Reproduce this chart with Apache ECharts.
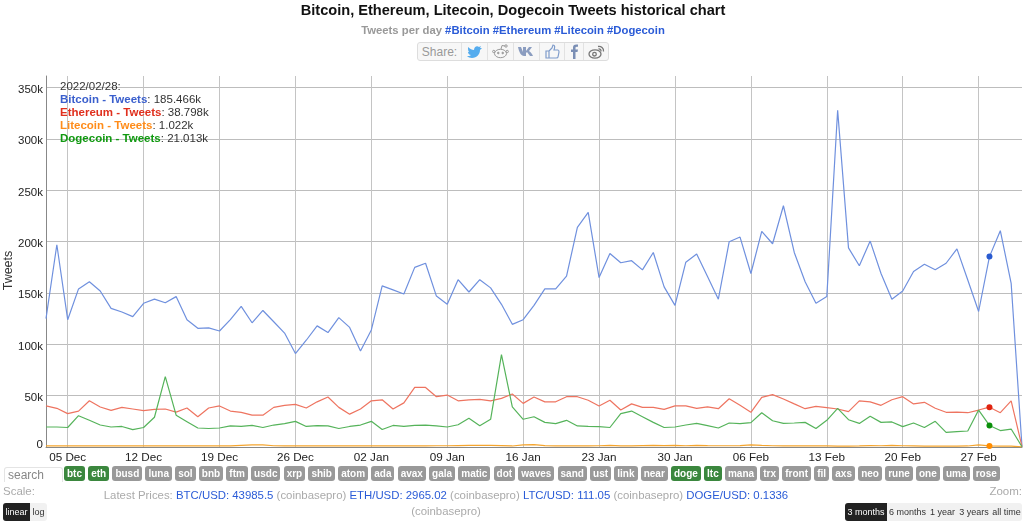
<!DOCTYPE html>
<html>
<head>
<meta charset="utf-8">
<title>Bitcoin, Ethereum, Litecoin, Dogecoin Tweets historical chart</title>
<script src="https://cdn.jsdelivr.net/npm/echarts@6/dist/echarts.min.js"></script>
<style>
html,body{margin:0;padding:0;background:#fff;font-family:"Liberation Sans",Arial,sans-serif;}
#page{position:relative;width:1024px;height:527px;overflow:hidden;}
#chart{position:absolute;left:0;top:0;width:1024px;height:527px;}
.abs{position:absolute;white-space:nowrap;}
#head{left:0;width:1026px;top:1px;text-align:center;font-weight:bold;font-size:14.6px;line-height:18px;color:#111;}
#sub{left:0;width:1026px;top:23px;text-align:center;font-weight:bold;font-size:11.3px;line-height:15px;color:#999;}
#sub span,.blue{color:#2a5bd7;}
#share{left:417px;top:42px;height:17px;width:190px;border:1px solid #ddd;border-radius:3px;background:#f7f7f7;display:flex;}
#share div{border-left:1px solid #e2e2e2;height:17px;display:flex;align-items:center;justify-content:center;}
#share div:first-child{border-left:0;color:#999;font-size:12px;}
#tags{left:64px;top:466px;display:flex;gap:3.2px;}
#tags span{background:#999;color:#fff;font-weight:bold;font-size:10px;line-height:15px;height:15px;padding:0 3px;border-radius:3px;}
#tags span.on{background:#3b873e;}
#search{left:4px;top:467px;width:54px;height:14px;border:1px solid #e4e4e4;border-bottom:0;border-radius:3px 3px 0 0;font-size:12px;line-height:15px;color:#888;padding-left:3px;}
.lbl{color:#aaa;font-size:11.5px;}
#prices{left:100px;width:692px;top:487px;text-align:center;font-size:11.4px;line-height:16px;color:#aaa;white-space:normal;}
.btns{display:flex;top:503px;height:18px;border-radius:3px;overflow:hidden;background:#f1f1f1;font-size:9px;line-height:18px;color:#333;text-align:center;}
.btns .act{background:#222;color:#fff;}
</style>
</head>
<body>
<div id="page">
  <div id="chart"></div>
  <div class="abs" id="head">Bitcoin, Ethereum, Litecoin, Dogecoin Tweets historical chart</div>
  <div class="abs" id="sub">Tweets per day <span>#Bitcoin #Ethereum #Litecoin #Dogecoin</span></div>
  <div class="abs" id="share">
    <div style="width:43px">Share:</div>
    <div style="width:25px"><svg width="15" height="13" viewBox="0 0 15 13"><path d="M1 2c2 2 4 3 6 3 0-3 3-5 5-3l2-1-1 2 2 0-2 2c0 4-3 8-8 8-2 0-4-1-5-2 2 0 3 0 4-1-2 0-3-2-3-3h1C1 6 1 4 1 2z" fill="#55acee"/></svg></div>
    <div style="width:25px"><svg width="17" height="15" viewBox="0 0 17 15" fill="none" stroke="#999"><ellipse cx="8.5" cy="9.5" rx="6" ry="4.2"/><circle cx="14" cy="2" r="1.2"/><path d="M9 5l1-3.5 3 .5"/><circle cx="1.8" cy="7.5" r="1.2"/><circle cx="15.2" cy="7.5" r="1.2"/><circle cx="6.3" cy="9" r=".8" fill="#999"/><circle cx="10.7" cy="9" r=".8" fill="#999"/></svg></div>
    <div style="width:25px"><svg width="17" height="11" viewBox="0 0 17 11"><path d="M0 1h3l2 5V1h3v4l3-4h3l-3 4c2 1 3 3 4 5h-3l-3-4-1 1v3H6C3 10 1 6 0 1z" fill="#8b9dc0"/></svg></div>
    <div style="width:24px"><svg width="15" height="15" viewBox="0 0 15 15" fill="none" stroke="#7f9ccb" stroke-width="1.2"><path d="M1 7h3v7H1zM4 7l3-3 1-3c2 0 2 2 1 5h4c1 0 1 1 1 2l-1 5c0 1-1 1-2 1H4"/></svg></div>
    <div style="width:18px"><svg width="9" height="15" viewBox="0 0 9 15"><path d="M3 15V8H1V5.500h2V3.500C3 1 4.500 0 8 .5v2.300c-2 0-2.500 0-2.500 1V5.500H8L7.500 8h-2v7z" fill="#7b8fb5"/></svg></div>
    <div style="width:24px"><svg width="17" height="14" viewBox="0 0 17 14" fill="none" stroke="#777" stroke-width="1.3"><ellipse cx="7" cy="9" rx="6" ry="4.200"/><circle cx="6.500" cy="9.200" r="1.800"/><path d="M10 1.500c3-.5 6 1.500 5.500 5M10.500 4c1.500-.3 2.800.8 2.500 2.300"/></svg></div>
  </div>
  <div class="abs" id="search">search</div>
  <div class="abs" id="tags"></div>
  <div class="abs lbl" style="left:3px;top:485px">Scale:</div>
  <div class="abs lbl" style="right:2px;top:485px">Zoom:</div>
  <div class="abs" id="prices">Latest Prices: <span class="blue">BTC/USD: 43985.5</span> (coinbasepro) <span class="blue">ETH/USD: 2965.02</span> (coinbasepro) <span class="blue">LTC/USD: 111.05</span> (coinbasepro) <span class="blue">DOGE/USD: 0.1336</span> (coinbasepro)</div>
  <div class="abs btns" style="left:3px;width:44px">
    <div class="act" style="width:27px">linear</div><div style="width:17px">log</div>
  </div>
  <div class="abs btns" style="left:845px;width:177px">
    <div class="act" style="width:42px">3 months</div><div style="width:41px">6 months</div><div style="width:29px">1 year</div><div style="width:34px">3 years</div><div style="width:31px">all time</div>
  </div>
</div>
<script>
var dates = [
  "03 Dec","04 Dec","05 Dec","06 Dec","07 Dec","08 Dec","09 Dec","10 Dec","11 Dec","12 Dec","13 Dec","14 Dec","15 Dec","16 Dec",
  "17 Dec","18 Dec","19 Dec","20 Dec","21 Dec","22 Dec","23 Dec","24 Dec","25 Dec","26 Dec","27 Dec","28 Dec","29 Dec","30 Dec","31 Dec",
  "01 Jan","02 Jan","03 Jan","04 Jan","05 Jan","06 Jan","07 Jan","08 Jan","09 Jan","10 Jan","11 Jan","12 Jan","13 Jan","14 Jan","15 Jan",
  "16 Jan","17 Jan","18 Jan","19 Jan","20 Jan","21 Jan","22 Jan","23 Jan","24 Jan","25 Jan","26 Jan","27 Jan","28 Jan","29 Jan","30 Jan","31 Jan",
  "01 Feb","02 Feb","03 Feb","04 Feb","05 Feb","06 Feb","07 Feb","08 Feb","09 Feb","10 Feb","11 Feb","12 Feb","13 Feb","14 Feb","15 Feb",
  "16 Feb","17 Feb","18 Feb","19 Feb","20 Feb","21 Feb","22 Feb","23 Feb","24 Feb","25 Feb","26 Feb","27 Feb","28 Feb","01 Mar","02 Mar","03 Mar"
];
// values in thousands of tweets
var bitcoin = [125,197,124,154,161,152,135,131.5,127,140,144,140.5,146.5,124,115.6,116,113,124,137,121,133,122,111,91,104,118,111.5,126,
  116.5,93.5,114,157,153,149,175,179,147,139,163,151,163,155,139,119.5,124,138,154,154,166.5,214,228.5,165,188.5,179.5,181.5,172.5,189.5,156,138,
  180,188,166,144,200,204.5,169,210,198,235,189.5,161,140,146.5,328,194,176.6,200.6,169,144,152,171,178,172.7,179,193,162.7,132,185.466,210.7,159.5,0.3];
var ethereum = [40,37.7,32.5,35,45,39,35.7,38.6,37,35.4,36.7,37,34,38,29.5,38,40,35,33.7,31,31,38.6,40.5,41.5,38,44,48.7,38.6,
  32,37,45,46,37,43,58,58,49,50.6,45,46,46.4,45,47.4,51.6,42.5,48.7,44,44,49,49,45.5,40,45.5,36,42,38.6,38.6,36.7,40,
  40,37.7,39,37.3,47,40.6,33.8,48.4,51,46.8,42,37.3,39.6,38.3,37,34.4,45,44,40.6,46,49,42,43.5,37.7,33.8,34,33.4,36,38.798,33.4,45,0.3];
var litecoin = [1,1,1,1,1,1,1,1,1,1,1,1,1,1,1,1,1,1,1.5,2,2,1.2,1,1,1,1,1,1,
  1,1,1,1,1,1,1,1,1.2,1.2,1.4,1.5,1.6,1.6,1.3,1,2,2.3,1.4,1,1,1,1,1.2,1.5,1,1,1.3,1.6,1.3,1.5,
  1.2,1.5,1.3,1.2,1.2,1.3,2,1.5,1.2,1,1,1,1,1,0.8,0.8,1,1.4,1.2,1.6,1.2,1,0.8,0.8,0.8,0.8,1,2,1.022,0.9,0.9,0.2];
var dogecoin = [19.5,19.5,19,30.5,26,21.4,19.5,20,17,19,29,68.5,31,24.7,18.5,18,18.5,20.5,20,21,19,21.4,22.7,25,20,20.8,20.5,18,
  20,21.4,25,17,21,20,21,21.4,20.5,19.5,21.7,28,20.8,27,90,39,27,29.5,24,22.7,26,20.5,20,19.8,19,32.5,35,29.5,24,19,19.5,
  21.4,23,20.8,18.5,23.4,22.7,23.7,33.4,25.6,23,23.4,24,18,26,37.7,26.6,23,30,24,24.4,19.8,23.4,19,25,14.3,15,15.6,36,21.013,16,17.5,0.3];
var tagNames = ["btc","eth","busd","luna","sol","bnb","ftm","usdc","xrp","shib","atom","ada","avax","gala","matic","dot","waves","sand","ust","link","near","doge","ltc","mana","trx","front","fil","axs","neo","rune","one","uma","rose"];
var activeTags = ["btc","eth","doge","ltc"];
var selectedIdx = 87; // 2022/02/28

var tagBox = document.getElementById("tags");
for(var i = 0; i < tagNames.length; i++){
    var s = document.createElement("span");
    s.textContent = tagNames[i];
    if(activeTags.indexOf(tagNames[i]) >= 0){ s.className = "on"; }
    tagBox.appendChild(s);
}

function isWeekTick(index){
    return (index - 2) % 7 === 0;
}
function mkSeries(name, data, lineColor, dotColor){
    return {
        name: name,
        type: 'line',
        data: data,
        symbol: 'none',
        silent: true,
        animation: false,
        lineStyle: {color: lineColor, width: 1.2},
        markPoint: {
            symbol: 'circle',
            symbolSize: 6,
            silent: true,
            animation: false,
            itemStyle: {color: dotColor},
            label: {show: false},
            data: [{coord: [selectedIdx, data[selectedIdx]]}]
        }
    };
}

var chart = echarts.init(document.getElementById("chart"));
var fmt = function(v){ return v.toFixed(3) + 'k'; };
chart.setOption({
    animation: false,
    title: {
        left: 55, top: 75,
        text: [
            '2022/02/28:',
            '{b|Bitcoin - Tweets}: ' + fmt(bitcoin[selectedIdx]),
            '{e|Ethereum - Tweets}: ' + fmt(ethereum[selectedIdx]),
            '{l|Litecoin - Tweets}: ' + fmt(litecoin[selectedIdx]),
            '{d|Dogecoin - Tweets}: ' + fmt(dogecoin[selectedIdx])
        ].join('\n'),
        textStyle: {
            fontFamily: 'Liberation Sans', fontSize: 11.5, fontWeight: 'normal', color: '#333', lineHeight: 13,
            rich: {
                b: {color: '#3a5fcd', fontWeight: 'bold', fontSize: 11.5, lineHeight: 13},
                e: {color: '#e0301e', fontWeight: 'bold', fontSize: 11.5, lineHeight: 13},
                l: {color: '#ff8c1a', fontWeight: 'bold', fontSize: 11.5, lineHeight: 13},
                d: {color: '#119911', fontWeight: 'bold', fontSize: 11.5, lineHeight: 13}
            }
        }
    },
    grid: {left: 46, top: 76, width: 976, height: 371, outerBoundsMode: 'none'},
    xAxis: {
        type: 'category',
        data: dates,
        boundaryGap: false,
        axisLine: {show: true, lineStyle: {color: '#888', width: 1}},
        axisTick: {show: false},
        axisLabel: {interval: function(i){ return isWeekTick(i); }, color: '#222', fontSize: 11.7, fontFamily: 'Liberation Sans', margin: 5},
        splitLine: {show: true, interval: function(i){ return isWeekTick(i); }, lineStyle: {color: '#c4c4c4', width: 1}}
    },
    yAxis: {
        type: 'value',
        min: 0,
        max: 361.4,
        interval: 50,
        name: 'Tweets',
        nameLocation: 'middle',
        nameGap: 31,
        nameMoveOverlap: false,
        nameTextStyle: {color: '#333', fontSize: 12.5, fontFamily: 'Liberation Sans', padding: [0, 18, 0, 0]},
        axisLine: {show: true, lineStyle: {color: '#888', width: 1}},
        axisTick: {show: false},
        axisLabel: {
            color: '#222', fontSize: 11.5, fontFamily: 'Liberation Sans', margin: 3, showMaxLabel: false,
            padding: [4, 0, 0, 0],
            formatter: function(v){ return v === 0 ? '{z|0}' : v + 'k'; },
            rich: {z: {color: '#222', fontSize: 11.5, fontFamily: 'Liberation Sans', padding: [0, 0, 8, 0]}}
        },
        splitLine: {show: true, showMaxLine: false, lineStyle: {color: '#bdbdbd', width: 1}}
    },
    series: [
        mkSeries('Bitcoin - Tweets', bitcoin, '#6f90de', '#2a5bd0'),
        mkSeries('Ethereum - Tweets', ethereum, '#ee7460', '#e0230f'),
        mkSeries('Litecoin - Tweets', litecoin, '#f5a52e', '#ff8c00'),
        mkSeries('Dogecoin - Tweets', dogecoin, '#55b35a', '#0a900a')
    ]
});
</script>
</body>
</html>
